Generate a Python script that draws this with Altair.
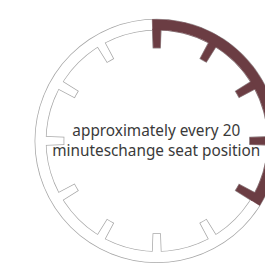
import math
import altair as alt
import pandas as pd

# data
tick_minutes = [0, 5, 10, 15, 20, 25, 30, 35, 40, 45, 50, 55]
highlight_minutes = 20
text_lines = ["approximately every 20", "minuteschange seat position"]

R_OUT, R_IN, R_TICK = 129, 118, 99
HALF = math.radians(2.1)
CX, CY = 158, 133

def ang(m):
    return m / 60 * 2 * math.pi

ring = pd.DataFrame([{"t0": 0.0, "t1": 2 * math.pi, "r0": R_IN, "r1": R_OUT}])
ticks = pd.DataFrame([
    {"t0": ang(m) - HALF, "t1": ang(m) + HALF, "r0": R_TICK, "r1": R_IN + 1.5}
    for m in tick_minutes
])
gray = pd.concat([ring, ticks], ignore_index=True)

red_ring = pd.DataFrame([{"t0": -HALF, "t1": ang(highlight_minutes) + HALF, "r0": R_IN, "r1": R_OUT}])
red_ticks = pd.DataFrame([
    {"t0": ang(m) - HALF, "t1": ang(m) + HALF, "r0": R_TICK, "r1": R_IN + 1}
    for m in tick_minutes if m <= highlight_minutes
])
red = pd.concat([red_ring, red_ticks], ignore_index=True)

enc = dict(
    theta=alt.Theta("t0:Q", scale=None),
    theta2="t1:Q",
    radius=alt.Radius("r0:Q", scale=None),
    radius2="r1:Q",
    x=alt.value(CX),
    y=alt.value(CY),
)

outline = alt.Chart(gray).mark_arc(fill="white", stroke="#a8a8a8", strokeWidth=1.6).encode(**enc)
cover = alt.Chart(gray).mark_arc(fill="white", strokeWidth=0).encode(**enc)
hl = alt.Chart(red).mark_arc(fill="#6b3d43", stroke="#6b3d43", strokeWidth=0.6).encode(**enc)

txt = alt.Chart(pd.DataFrame({"t": ["\n".join(text_lines)]})).mark_text(
    font="Noto Sans", fontSize=16.3, color="#3a3a3a", lineBreak="\n",
    lineHeight=21, align="center", baseline="middle"
).encode(text="t:N", x=alt.value(CX - 0.5), y=alt.value(CY - 10))

chart = alt.layer(outline, cover, hl, txt).properties(
    width=273, height=262, padding=0, autosize=alt.AutoSizeParams(type="none")
).configure_view(stroke=None)

chart.save("out.html", embed_options={"renderer": "svg", "actions": False})
